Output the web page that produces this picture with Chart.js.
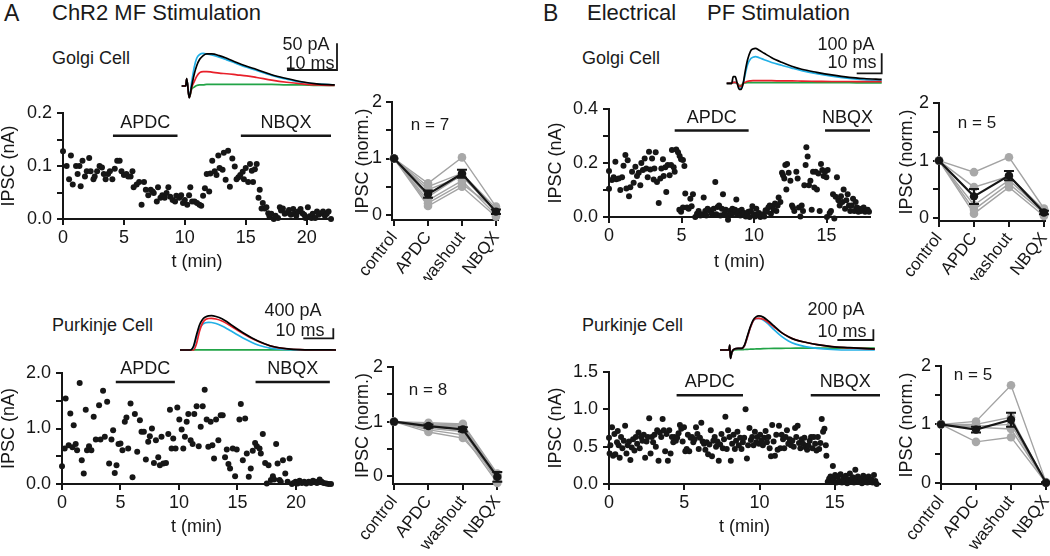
<!DOCTYPE html>
<html>
<head>
<meta charset="utf-8">
<script src="https://cdn.jsdelivr.net/npm/chart.js@4.4.1/dist/chart.umd.min.js"></script>
<style>
    body { margin: 0; width: 1050px; height: 556px; overflow: hidden; position: relative; background: #fff;
           font-family: "Liberation Sans", Arial, Helvetica, sans-serif; color: #1a1a1a; }
    canvas { position: absolute; }
    .lbl { position: absolute; line-height: 1; white-space: pre; }
</style>
</head>
<body>
<script>
// ---- values ----
var conditions = ['control', 'APDC', 'washout', 'NBQX'];

// time courses, [t (min), IPSC (nA)]
var golgiMf = [[0,0.128],[0.3,0.10],[0.5,0.075],[0.65,0.12],[0.8,0.065],[1.07,0.10],[1.2,0.085],[1.35,0.10],[1.45,0.062],[1.6,0.11],[1.8,0.08],[1.95,0.09],[2.15,0.115],[2.27,0.09],[2.5,0.075],[2.6,0.08],[2.8,0.09],[3.0,0.10],[3.2,0.097],[3.35,0.085],[3.5,0.075],[3.7,0.085],[3.85,0.09],[4.05,0.075],[4.25,0.095],[4.45,0.11],[4.65,0.11],[4.8,0.09],[5.0,0.083],[5.2,0.085],[5.35,0.08],[5.55,0.08],[5.7,0.09],[5.8,0.06],[6.05,0.065],[6.25,0.07],[6.45,0.027],[6.65,0.07],[6.8,0.055],[7.0,0.045],[7.2,0.055],[7.35,0.052],[7.45,0.049],[7.7,0.033],[7.8,0.06],[8.0,0.04],[8.15,0.045],[8.35,0.04],[8.5,0.049],[8.65,0.06],[8.8,0.042],[9.0,0.036],[9.2,0.033],[9.3,0.044],[9.55,0.04],[9.7,0.045],[9.85,0.03],[10.0,0.036],[10.2,0.027],[10.35,0.045],[10.45,0.06],[10.6,0.033],[10.8,0.033],[11.0,0.03],[11.2,0.027],[11.35,0.025],[11.5,0.044],[11.65,0.058],[11.8,0.085],[12.0,0.052],[12.1,0.086],[12.25,0.11],[12.45,0.09],[12.6,0.083],[12.75,0.12],[12.85,0.096],[13.1,0.093],[13.2,0.125],[13.35,0.074],[13.55,0.129],[13.7,0.061],[13.9,0.114],[14.1,0.099],[14.25,0.075],[14.4,0.079],[14.55,0.083],[14.75,0.089],[14.85,0.075],[15.0,0.096],[15.2,0.07],[15.35,0.104],[15.5,0.091],[15.6,0.07],[15.75,0.094],[15.9,0.104],[16.05,0.04],[16.15,0.055],[16.3,0.02],[16.4,0.03],[16.55,0.02],[16.7,0.022],[16.85,0.011],[16.95,0.005],[17.1,0.01],[17.3,0.0],[17.45,0.006],[17.65,0.002],[17.8,0.022],[17.9,0.016],[18.05,0.02],[18.2,0.01],[18.4,0.012],[18.55,0.017],[18.7,0.008],[18.9,0.019],[19.0,0.01],[19.15,0.006],[19.3,0.014],[19.5,0.019],[19.65,0.011],[19.8,0.008],[19.9,0.002],[20.1,0.022],[20.25,0.005],[20.4,0.002],[20.5,0.01],[20.7,0.002],[20.85,0.014],[21.0,0.008],[21.2,0.011],[21.35,0.014],[21.5,0.006],[21.65,0.01],[21.8,0.014],[22.0,0.0]];
var purkinjeMf = [[0,0.32],[0.23,0.64],[0.31,1.54],[0.57,0.70],[0.71,1.27],[0.89,0.66],[1.0,1.06],[1.17,0.72],[1.29,0.61],[1.51,1.82],[1.69,0.43],[1.86,0.19],[2.03,1.34],[2.14,0.61],[2.31,0.68],[2.51,0.61],[2.71,1.21],[2.89,0.80],[3.17,1.42],[3.29,0.80],[3.51,1.68],[3.66,0.85],[3.86,1.48],[4.03,0.37],[4.23,0.80],[4.37,0.97],[4.51,0.20],[4.66,0.34],[4.83,0.72],[5.0,0.73],[5.17,0.61],[5.37,1.12],[5.51,1.20],[5.66,0.64],[5.86,1.45],[6.03,0.12],[6.23,1.26],[6.43,0.58],[6.66,1.15],[6.8,0.94],[7.0,0.94],[7.17,0.44],[7.37,0.76],[7.51,0.86],[7.69,1.0],[7.86,0.38],[8.03,0.79],[8.23,0.48],[8.37,0.34],[8.51,0.85],[8.66,0.37],[8.89,0.38],[9.09,0.90],[9.23,1.34],[9.37,0.64],[9.51,0.82],[9.71,0.64],[9.86,1.38],[10.03,1.16],[10.23,0.98],[10.37,0.64],[10.51,0.85],[10.66,1.12],[10.8,1.26],[11.0,0.79],[11.17,0.72],[11.31,1.26],[11.51,1.40],[11.69,0.68],[11.86,1.03],[12.03,1.40],[12.2,1.70],[12.37,1.16],[12.51,0.67],[12.71,1.12],[12.86,0.70],[13.0,0.46],[13.17,1.16],[13.37,0.79],[13.57,1.24],[13.74,1.24],[13.94,0.48],[14.09,0.62],[14.23,0.36],[14.37,0.28],[14.6,0.64],[14.8,0.14],[14.94,0.62],[15.17,1.16],[15.29,1.44],[15.46,0.43],[15.66,1.18],[15.8,0.55],[15.97,0.13],[16.14,0.28],[16.31,0.60],[16.51,0.74],[16.66,0.68],[16.89,0.64],[17.0,0.55],[17.17,0.90],[17.37,0.38],[17.51,0.01],[17.66,0.34],[17.86,0.07],[18.03,0.14],[18.14,0.08],[18.31,0.72],[18.43,0.37],[18.6,0.07],[18.71,0.04],[18.89,0.43],[19.09,0.19],[19.29,0.04],[19.46,0.46],[19.66,0.0],[19.8,0.02],[19.97,0.04],[20.14,0.01],[20.31,0.06],[20.51,0.02],[20.71,0.04],[20.89,0.01],[21.09,0.04],[21.29,0.02],[21.46,0.06],[21.66,0.04],[21.8,0.02],[22.03,0.08],[22.2,0.04],[22.37,0.02],[22.6,0.01],[22.8,0.0],[23.0,0.0]];
var golgiPf = [[0,0.105],[0,0.17],[0.2,0.137],[0.32,0.147],[0.44,0.205],[0.5,0.14],[0.67,0.143],[0.78,0.1],[0.9,0.147],[1.0,0.19],[1.13,0.23],[1.2,0.106],[1.29,0.21],[1.38,0.077],[1.47,0.11],[1.59,0.168],[1.7,0.127],[1.82,0.186],[1.93,0.152],[2.05,0.164],[2.16,0.118],[2.23,0.2],[2.34,0.174],[2.46,0.217],[2.57,0.18],[2.67,0.147],[2.76,0.242],[2.85,0.176],[2.97,0.217],[3.08,0.139],[3.13,0.18],[3.22,0.24],[3.31,0.13],[3.43,0.052],[3.54,0.143],[3.61,0.18],[3.72,0.214],[3.77,0.152],[3.89,0.184],[3.95,0.093],[4.05,0.193],[4.18,0.155],[4.28,0.193],[4.34,0.248],[4.46,0.184],[4.53,0.168],[4.64,0.25],[4.76,0.24],[4.87,0.226],[4.97,0.214],[5.1,0.211],[5.2,0.189],[4.85,0.027],[4.97,0.019],[5.1,0.035],[5.26,0.087],[5.38,0.035],[5.49,0.031],[5.61,0.068],[5.7,0.04],[5.79,0.084],[5.95,0.0],[6.07,0.012],[6.18,0.022],[6.3,0.006],[6.41,0.01],[6.53,0.072],[6.64,0.022],[6.71,0.006],[6.8,0.031],[6.94,0.025],[7.03,0.019],[7.1,0.01],[7.22,0.031],[7.33,0.13],[7.4,0.01],[7.49,0.037],[7.59,0.043],[7.68,0.006],[7.79,0.031],[7.86,0.084],[7.95,0.012],[8.05,0.027],[8.14,0.006],[8.21,-0.01],[8.32,0.022],[8.41,0.01],[8.51,0.031],[8.6,0.015],[8.69,0.027],[8.78,0.065],[8.87,0.01],[8.97,0.022],[9.06,0.006],[9.15,0.027],[9.24,0.012],[9.33,0.015],[9.43,0.002],[9.52,0.01],[9.61,0.019],[9.7,0.0],[9.79,0.022],[9.89,0.04],[9.98,0.01],[10.07,0.002],[10.16,0.031],[10.25,0.01],[10.34,0.015],[10.44,0.0],[10.53,0.006],[10.62,0.01],[10.71,0.002],[10.8,0.025],[10.9,0.019],[10.99,0.035],[11.08,0.043],[11.17,0.012],[11.26,0.04],[11.36,0.027],[11.45,0.05],[11.54,0.022],[11.63,0.043],[11.7,0.072],[11.82,0.056],[11.93,0.164],[12.0,0.155],[12.09,0.143],[12.16,0.193],[12.23,0.102],[12.28,0.196],[12.39,0.164],[12.51,0.134],[12.62,0.043],[12.69,0.035],[12.78,0.022],[12.92,0.168],[13.01,0.143],[13.1,0.035],[13.2,0.002],[13.29,0.043],[13.38,0.022],[13.47,0.118],[13.56,0.193],[13.61,0.258],[13.7,0.224],[13.79,0.118],[13.89,0.134],[13.98,0.027],[14.07,0.168],[14.16,0.109],[14.25,0.168],[14.34,0.102],[14.44,0.161],[14.53,0.022],[14.62,0.196],[14.71,0.174],[14.8,0.152],[14.9,0.168],[14.99,0.147],[15.03,0.0],[15.08,0.174],[15.22,0.015],[15.31,0.022],[15.45,0.084],[15.54,-0.006],[15.63,0.075],[15.72,0.147],[15.82,0.062],[15.91,0.043],[16.0,0.077],[16.09,0.056],[16.18,0.102],[16.28,0.031],[16.37,0.062],[16.46,0.084],[16.55,0.043],[16.64,0.022],[16.74,0.043],[16.83,0.068],[16.92,0.022],[17.01,0.056],[17.1,0.035],[17.2,0.019],[17.29,0.031],[17.38,0.022],[17.47,0.027],[17.56,0.035],[17.66,0.019],[17.75,0.022],[17.84,0.027],[17.93,0.019]];
var purkinjePf = [[0,0.62],[0.04,0.41],[0.09,0.52],[0.2,0.76],[0.27,0.38],[0.36,0.67],[0.42,0.4],[0.53,0.56],[0.58,0.71],[0.64,0.52],[0.71,0.35],[0.8,0.63],[0.89,0.48],[0.98,0.58],[1.07,0.78],[1.16,0.41],[1.24,0.52],[1.33,0.57],[1.42,0.32],[1.51,0.49],[1.6,0.6],[1.69,0.45],[1.78,0.63],[1.87,0.54],[1.96,0.69],[2.04,0.48],[2.13,0.63],[2.22,0.58],[2.31,0.66],[2.4,0.35],[2.49,0.57],[2.58,0.63],[2.67,0.88],[2.76,0.41],[2.84,0.63],[2.93,0.56],[3.02,0.66],[3.11,0.5],[3.2,0.72],[3.29,0.31],[3.38,0.69],[3.47,0.63],[3.56,0.87],[3.64,0.72],[3.73,0.44],[3.82,0.67],[3.91,0.31],[4.0,0.72],[4.09,0.41],[4.18,0.63],[4.27,0.56],[4.36,0.63],[4.44,0.58],[4.53,0.62],[4.62,0.68],[4.71,0.79],[4.8,0.74],[4.89,0.57],[4.98,0.76],[5.07,0.44],[5.16,0.47],[5.24,0.66],[5.33,0.44],[5.42,0.62],[5.51,0.63],[5.6,0.56],[5.69,0.6],[5.78,0.76],[5.87,0.67],[5.96,0.47],[6.04,0.62],[6.13,0.82],[6.22,0.57],[6.31,0.54],[6.4,0.46],[6.49,0.56],[6.58,0.4],[6.67,0.53],[6.76,0.72],[6.84,0.37],[6.93,0.58],[7.02,0.63],[7.11,0.5],[7.2,0.57],[7.29,0.31],[7.38,0.53],[7.47,0.67],[7.56,0.48],[7.64,0.6],[7.73,0.9],[7.82,0.47],[7.91,0.72],[8.0,0.63],[8.09,0.31],[8.18,0.54],[8.27,0.66],[8.36,0.47],[8.44,0.58],[8.53,0.7],[8.62,0.52],[8.71,0.62],[8.8,0.47],[8.89,0.56],[8.98,0.62],[9.07,1.0],[9.16,0.34],[9.24,0.52],[9.33,0.75],[9.42,0.59],[9.51,0.63],[9.6,0.52],[9.69,0.7],[9.78,0.56],[9.87,0.63],[9.96,0.54],[10.04,0.66],[10.13,0.58],[10.22,0.52],[10.31,0.62],[10.4,0.71],[10.49,0.56],[10.58,0.63],[10.67,0.48],[10.76,0.37],[10.84,0.79],[10.93,0.57],[11.02,0.38],[11.11,0.66],[11.2,0.46],[11.29,0.78],[11.38,0.48],[11.47,0.66],[11.56,0.6],[11.64,0.48],[11.73,0.63],[11.82,0.72],[11.91,0.54],[12.0,0.6],[12.09,0.52],[12.18,0.58],[12.27,0.5],[12.36,0.75],[12.44,0.63],[12.53,0.78],[12.62,0.55],[12.71,0.48],[12.8,0.6],[12.89,0.54],[12.98,0.62],[13.07,0.49],[13.16,0.46],[13.24,0.52],[13.33,0.58],[13.42,0.63],[13.51,0.48],[13.6,0.63],[13.69,0.54],[13.78,0.45],[13.87,0.63],[13.96,0.47],[14.04,0.55],[14.13,0.87],[14.22,0.7],[14.31,0.74],[14.4,0.52],[14.44,0.38],[14.53,0.03],[14.62,0.07],[14.71,0.1],[14.8,0.03],[14.87,0.24],[14.93,0.06],[15.02,0.12],[15.11,0.02],[15.2,0.1],[15.29,0.04],[15.38,0.13],[15.47,0.02],[15.56,0.07],[15.64,0.03],[15.73,0.11],[15.82,0.01],[15.91,0.06],[16.0,0.14],[16.09,0.04],[16.18,0.09],[16.27,0.02],[16.36,0.19],[16.44,0.05],[16.53,0.1],[16.62,0.03],[16.71,0.07],[16.8,0.01],[16.89,0.11],[16.98,0.04],[17.07,0.07],[17.16,0.02],[17.24,0.1],[17.33,0.03],[17.42,0.06],[17.51,0.02],[17.6,0.12],[17.69,0.04],[17.78,0.0]];

// drug application periods (min) and the IPSC level the bar sits at (nA)
var apdcGolgiMf = [4.1, 9.4], nbqxGolgiMf = [14.6, 22], barGolgiMf = 0.157;
var apdcPurkMf = [4.6, 9.65], nbqxPurkMf = [16.55, 22.9], barPurkMf = 1.84;
var apdcGolgiPf = [4.53, 9.63], nbqxGolgiPf = [14.9, 18], barGolgiPf = 0.32;
var apdcPurkPf = [4.49, 8.9], nbqxPurkPf = [13.4, 18], barPurkPf = 1.19;

// normalised IPSC per cell (control = 1), mean and SEM over cells
var golgiMfApdc = [0.56, 0.50, 0.45, 0.32, 0.26, 0.21, 0.16];
var golgiMfWash = [1.02, 0.74, 0.68, 0.71, 0.61, 0.55, 0.50];
var golgiMfNbqx = [0.15, 0.12, 0.08, 0.04, 0.00, 0.10, -0.03];
var golgiMfMean = [1, 0.37, 0.73, 0.06], golgiMfSem = [0, 0.065, 0.07, 0.04];

var purkMfApdc = [0.98, 0.96, 0.94, 0.92, 0.90, 0.88, 0.85, 0.81];
var purkMfWash = [0.96, 0.94, 0.92, 0.90, 0.86, 0.82, 0.76, 0.70];
var purkMfNbqx = [0.05, 0.03, 0.00, -0.02, -0.05, -0.08, -0.12, 0.02];
var purkMfMean = [1, 0.92, 0.86, -0.01], purkMfSem = [0, 0.03, 0.04, 0.09];

var golgiPfApdc = [0.80, 0.54, 0.23, 0.15, 0.08];
var golgiPfWash = [1.06, 0.73, 0.66, 0.60, 0.54];
var golgiPfNbqx = [0.17, 0.15, 0.12, 0.09, 0.04];
var golgiPfMean = [1, 0.38, 0.74, 0.10], golgiPfSem = [0, 0.13, 0.08, 0.03];

var purkPfApdc = [1.05, 1.00, 0.97, 0.95, 0.70];
var purkPfWash = [1.67, 1.12, 1.00, 0.92, 0.78];
var purkPfNbqx = [0.01, 0.00, 0.00, 0.00, 0.00];
var purkPfMean = [1, 0.91, 1.08, 0.00], purkPfSem = [0, 0.05, 0.12, 0.01];

// example traces: t (ms) and IPSC (pA) in control, APDC, washout, NBQX
var trGolgiMfT = [0, 0.8, 1.0, 1.5, 2.0, 2.5, 3.0, 3.6, 4.3, 5.0, 6.0, 7.5, 9, 11, 13, 15, 18, 21, 24, 27, 30.6];
var trGolgiMfCtrl = [0, 0, 14, -22, 0, 22, 38, 50, 57, 60, 60, 57, 52, 44, 37, 31, 21, 14, 8, 4, 2];
var trGolgiMfApdc = [0, 0, 14, -22, -3, 8, 18, 25, 27, 27, 26, 24, 23, 21, 19, 16, 11, 7, 4, 2, 1];
var trGolgiMfWash = [0, 0, 14, -22, 8, 35, 52, 59, 61, 60, 58, 54, 49, 42, 35, 29, 20, 13, 7, 4, 2];
var trGolgiMfNbqx = [0, 0, 14, -22, -6, -2, 1, 2, 2, 3, 3, 3, 3, 3, 3, 3, 3, 2, 2, 1, 1];

var trPurkMfT = [0, 3.5, 4.5, 5.5, 6.5, 7.5, 8.5, 9.5, 10.5, 12, 14, 16, 18, 20, 22, 24, 26, 28, 30, 33, 36, 40, 45, 52];
var trPurkMfCtrl = [0, 0, 150, 600, 1000, 1220, 1320, 1365, 1373, 1340, 1250, 1100, 930, 770, 620, 480, 360, 260, 170, 90, 45, 15, 5, 0];
var trPurkMfApdc = [0, 0, 0, 250, 750, 1080, 1220, 1260, 1267, 1240, 1160, 1030, 880, 730, 590, 460, 350, 250, 165, 85, 40, 15, 5, 0];
var trPurkMfWash = [0, 0, 100, 500, 850, 1020, 1090, 1107, 1100, 1060, 960, 830, 690, 550, 420, 300, 200, 130, 75, 30, 10, 3, 0, 0];
var trPurkMfNbqx = [0, 0, 0, 5, 5, 5, 5, 5, 5, 5, 5, 5, 5, 5, 5, 5, 5, 5, 5, 5, 5, 5, 5, 5];

var trGolgiPfT = [0, 2, 2.6, 3.4, 4.2, 5, 5.8, 6.6, 7.4, 8.4, 9.5, 10.5, 11.5, 13, 15, 18, 22, 26, 30, 36, 42, 49, 55, 62];
var trGolgiPfCtrl = [0, 0, 33, 33, 0, -30, -30, 0, 60, 120, 160, 172, 175, 165, 150, 128, 105, 85, 70, 55, 42, 30, 24, 20];
var trGolgiPfApdc = [0, 0, 5, 5, 0, -15, -15, 0, 5, 10, 12, 13, 13, 13, 13, 13, 12, 12, 11, 10, 9, 9, 8, 8];
var trGolgiPfWash = [0, 0, 5, 5, 0, -20, -25, 0, 45, 95, 122, 130, 133, 128, 118, 104, 90, 76, 63, 48, 36, 25, 18, 13];
var trGolgiPfNbqx = [0, 0, 3, 3, 0, -10, -10, 0, 2, 3, 3, 3, 3, 3, 3, 3, 3, 3, 3, 3, 3, 3, 2, 2];

var trPurkPfT = [0, 2.5, 2.7, 2.9, 3.3, 4, 5, 6, 6.8, 7.6, 8.4, 9.2, 10, 10.8, 12, 13.5, 15, 17, 19, 21, 24, 27, 31, 36, 43];
var trPurkPfCtrl = [0, 0, 93, -155, -40, 20, 30, 30, 90, 260, 430, 560, 620, 637, 615, 540, 450, 330, 250, 190, 140, 100, 65, 45, 19];
var trPurkPfApdc = [0, 0, 93, -155, -40, 20, 30, 30, 80, 240, 410, 540, 590, 592, 575, 510, 430, 330, 250, 190, 140, 100, 65, 40, 18];
var trPurkPfWash = [0, 0, 93, -155, -40, 20, 30, 30, 80, 240, 410, 540, 585, 590, 560, 480, 380, 260, 170, 110, 60, 30, 10, 0, 0];
var trPurkPfNbqx = [0, 0, 93, -155, -40, 0, 5, 5, 10, 12, 15, 18, 20, 22, 25, 28, 30, 32, 33, 34, 35, 35, 35, 35, 35];

// scale bars: [ms, pA]
var sbGolgiMf = [10, 50], sbPurkMf = [10, 400], sbGolgiPf = [10, 100], sbPurkPf = [10, 200];

// ---- drawing ----
var ink = '#161616';
var traceColors = { ctrl: '#000000', apdc: '#e8202a', wash: '#22b0e6', nbqx: '#22a447' };
Chart.defaults.font.family = '"Liberation Sans", Arial, Helvetica, sans-serif';
Chart.defaults.font.size = 18;
Chart.defaults.color = ink;

function label(text, x, y, size, center) {
    var d = document.createElement('div');
    d.className = 'lbl';
    d.textContent = text;
    d.style.fontSize = size + 'px';
    d.style.left = x + 'px';
    d.style.top = (y - size * 0.49) + 'px';
    if (center) d.style.transform = 'translateX(-50%)';
    document.body.appendChild(d);
}

function canvasAt(left, top, width, height) {
    var c = document.createElement('canvas');
    c.width = width;
    c.height = height;
    c.style.left = left + 'px';
    c.style.top = top + 'px';
    document.body.appendChild(c);
    return c;
}

// box = plot area in page pixels, pad = room around it for axes
function place(box, pad) {
    return canvasAt(box.l - pad.l, box.t - pad.t, box.r - box.l + pad.l + pad.r, box.b - box.t + pad.t + pad.b);
}

function fixedSize(size) {
    return function (s) {
        if (s.isHorizontal()) s.height = size; else s.width = size;
        s.paddingLeft = s.paddingRight = s.paddingTop = s.paddingBottom = 0;
    };
}

function axis(o) {
    return {
        type: 'linear', position: o.pos, min: o.min, max: o.max,
        border: { display: true, color: ink, width: 2 },
        grid: { drawOnChartArea: false, color: ink, lineWidth: 2, tickLength: 6 },
        ticks: {
            stepSize: o.step, includeBounds: false, autoSkip: false, color: ink,
            padding: o.tickPad, font: { size: o.fontSize || 18 },
            minRotation: o.rot || 0, maxRotation: o.rot || 0, callback: o.fmt
        },
        title: { display: true, text: o.title, color: ink, padding: 0, font: { size: 18, lineHeight: 1 } },
        afterFit: fixedSize(o.size)
    };
}

var drugPlugin = {
    id: 'drugs',
    afterDatasetsDraw: function (chart, args, opts) {
        var ctx = chart.ctx, xs = chart.scales.x, ys = chart.scales.y;
        var y = ys.getPixelForValue(opts.level);
        ctx.save();
        ctx.strokeStyle = ink;
        ctx.fillStyle = ink;
        ctx.lineWidth = 2.5;
        ctx.font = '18px "Liberation Sans", Arial, sans-serif';
        ctx.textAlign = 'center';
        ctx.textBaseline = 'middle';
        opts.bars.forEach(function (b) {
            var x0 = xs.getPixelForValue(b.span[0]), x1 = xs.getPixelForValue(b.span[1]);
            ctx.beginPath();
            ctx.moveTo(x0, y);
            ctx.lineTo(x1, y);
            ctx.stroke();
            ctx.fillText(b.name, (x0 + x1) / 2, y - 13);
        });
        ctx.restore();
    }
};

var errPlugin = {
    id: 'errbars',
    afterDatasetsDraw: function (chart, args, opts) {
        var ctx = chart.ctx, xs = chart.scales.x, ys = chart.scales.y;
        ctx.save();
        ctx.strokeStyle = ink;
        ctx.lineWidth = 2;
        opts.mean.forEach(function (m, i) {
            if (!opts.sem[i]) return;
            var x = xs.getPixelForValue(i);
            var y0 = ys.getPixelForValue(m - opts.sem[i]), y1 = ys.getPixelForValue(m + opts.sem[i]);
            ctx.beginPath();
            ctx.moveTo(x, y0); ctx.lineTo(x, y1);
            ctx.moveTo(x - 5, y0); ctx.lineTo(x + 5, y0);
            ctx.moveTo(x - 5, y1); ctx.lineTo(x + 5, y1);
            ctx.stroke();
        });
        ctx.restore();
    }
};

function timeCourse(points, box, pad, xMax, yMax, yStep, yFmt, drugs, level) {
    new Chart(place(box, pad), {
        type: 'scatter',
        data: {
            datasets: [{
                data: points.map(function (p) { return { x: p[0], y: p[1] }; }),
                pointRadius: 3, backgroundColor: ink, borderWidth: 0, clip: false
            }]
        },
        options: {
            responsive: false, animation: false,
            layout: { padding: { top: pad.t, right: pad.r, left: 0, bottom: 0 } },
            scales: {
                x: axis({ pos: 'bottom', min: 0, max: xMax, step: 5, size: pad.b, tickPad: 2, title: 't (min)',
                          fmt: function (v) { return String(v); } }),
                y: axis({ pos: 'left', min: 0, max: yMax, step: yStep, size: pad.l, tickPad: 5, title: 'IPSC (nA)', fmt: yFmt })
            },
            plugins: { legend: { display: false }, tooltip: { enabled: false }, drugs: { bars: drugs, level: level } }
        },
        plugins: [drugPlugin]
    });
}

function normPlot(apdc, wash, nbqx, mean, sem, box, pad, xMin, xMax, yMin) {
    var sets = [{
        data: mean.map(function (v, i) { return { x: i, y: v }; }),
        borderColor: ink, backgroundColor: ink, borderWidth: 2.2, pointRadius: 4.2, pointBorderWidth: 0, clip: false
    }];
    apdc.forEach(function (a, i) {
        sets.push({
            data: [{ x: 0, y: 1 }, { x: 1, y: a }, { x: 2, y: wash[i] }, { x: 3, y: nbqx[i] }],
            borderColor: '#a3a3a3', backgroundColor: '#a8a8a8', borderWidth: 1.4, pointRadius: 4.3, pointBorderWidth: 0, clip: false
        });
    });
    new Chart(place(box, pad), {
        type: 'line',
        data: { datasets: sets },
        options: {
            responsive: false, animation: false,
            layout: { padding: { top: pad.t, right: pad.r, left: 0, bottom: 0 } },
            scales: {
                x: axis({ pos: 'bottom', min: xMin, max: xMax, step: 1, size: pad.b, tickPad: 2, rot: 52, fontSize: 17, title: '',
                          fmt: function (v) { return conditions[v] || ''; } }),
                y: axis({ pos: 'left', min: yMin, max: 2, step: 0.5, size: pad.l, tickPad: 4, title: 'IPSC (norm.)',
                          fmt: function (v) { return Number.isInteger(v) ? String(v) : ''; } })
            },
            plugins: { legend: { display: false }, tooltip: { enabled: false }, errbars: { mean: mean, sem: sem } }
        },
        plugins: [errPlugin]
    });
}

// cv = canvas [left, top, width, height], xr/yr = ms and pA at its edges,
// bar = corner of the scale bar [ms, pA]
function trace(cv, xr, yr, t, ctrl, apdc, wash, nbqx, sb, bar) {
    function line(v, color) {
        return {
            data: t.map(function (x, i) { return { x: x, y: v[i] }; }),
            borderColor: color, borderWidth: 1.7, pointRadius: 0, cubicInterpolationMode: 'monotone', clip: false
        };
    }
    var sets = [line(ctrl, traceColors.ctrl), line(apdc, traceColors.apdc), line(wash, traceColors.wash), line(nbqx, traceColors.nbqx)];
    sets.push({
        data: [{ x: bar[0] - sb[0], y: bar[1] }, { x: bar[0], y: bar[1] }, { x: bar[0], y: bar[1] + sb[1] }],
        borderColor: ink, borderWidth: 1.8, pointRadius: 0, tension: 0, clip: false
    });
    new Chart(canvasAt(cv[0], cv[1], cv[2], cv[3]), {
        type: 'line',
        data: { datasets: sets },
        options: {
            responsive: false, animation: false,
            layout: { padding: 0 },
            scales: {
                x: { type: 'linear', display: false, min: xr[0], max: xr[1] },
                y: { type: 'linear', display: false, min: yr[0], max: yr[1] }
            },
            plugins: { legend: { display: false }, tooltip: { enabled: false } }
        }
    });
}

// ---- panel A: ChR2 MF stimulation ----
label('A', 4, 13, 23, false);
label('ChR2 MF Stimulation', 52, 13, 22, false);
label('Golgi Cell', 52, 58, 18, false);
label('Purkinje Cell', 52, 325, 18, false);

trace([180, 38, 160, 62], [-0.34, 31.66], [-26.2, 89.9], trGolgiMfT,
      trGolgiMfCtrl, trGolgiMfApdc, trGolgiMfWash, trGolgiMfNbqx, sbGolgiMf, [31.06, 30]);
label('50 pA', 306, 44, 18, true);
label('10 ms', 310, 63, 18, true);

trace([176, 300, 164, 56], [-1.33, 53.33], [-240, 2000], trPurkMfT,
      trPurkMfCtrl, trPurkMfApdc, trPurkMfWash, trPurkMfNbqx, sbPurkMf, [51.1, 467]);
label('400 pA', 293, 310, 18, true);
label('10 ms', 300, 330, 18, true);

timeCourse(golgiMf, { l: 63, t: 113, r: 331, b: 219 }, { l: 63, t: 20, r: 12, b: 52 }, 22, 0.2, 0.05,
    function (v) { return Math.round(v * 100) % 10 === 0 ? v.toFixed(1) : ''; },
    [{ name: 'APDC', span: apdcGolgiMf }, { name: 'NBQX', span: nbqxGolgiMf }], barGolgiMf);
timeCourse(purkinjeMf, { l: 62, t: 373, r: 331, b: 484 }, { l: 62, t: 20, r: 12, b: 52 }, 23, 2, 0.5,
    function (v) { return Number.isInteger(v) ? v.toFixed(1) : ''; },
    [{ name: 'APDC', span: apdcPurkMf }, { name: 'NBQX', span: nbqxPurkMf }], barPurkMf);

normPlot(golgiMfApdc, golgiMfWash, golgiMfNbqx, golgiMfMean, golgiMfSem,
    { l: 392, t: 102, r: 498, b: 220 }, { l: 38, t: 20, r: 8, b: 60 }, -0.06, 3.06, -0.088);
label('n = 7', 430, 124, 17, true);
normPlot(purkMfApdc, purkMfWash, purkMfNbqx, purkMfMean, purkMfSem,
    { l: 393, t: 367, r: 499, b: 484 }, { l: 39, t: 20, r: 8, b: 72 }, -0.03, 3.05, -0.14);
label('n = 8', 428, 389, 17, true);

// ---- panel B: electrical PF stimulation ----
label('B', 543, 13, 23, false);
label('Electrical', 587, 13, 22, false);
label('PF Stimulation', 707, 13, 22, false);
label('Golgi Cell', 582, 58, 18, false);
label('Purkinje Cell', 582, 325, 18, false);

trace([722, 38, 166, 58], [-1.88, 64.52], [-63.5, 226.5], trGolgiPfT,
      trGolgiPfCtrl, trGolgiPfApdc, trGolgiPfWash, trGolgiPfNbqx, sbGolgiPf, [62, 50]);
label('100 pA', 846, 44, 18, true);
label('10 ms', 852, 62, 18, true);

trace([715, 300, 165, 62], [-1.39, 44.44], [-224, 935], trPurkPfT,
      trPurkPfCtrl, trPurkPfApdc, trPurkPfWash, trPurkPfNbqx, sbPurkPf, [42.6, 187]);
label('200 pA', 836, 309, 18, true);
label('10 ms', 842, 331, 18, true);

timeCourse(golgiPf, { l: 609, t: 109, r: 870, b: 217 }, { l: 62, t: 20, r: 12, b: 54 }, 18, 0.4, 0.1,
    function (v) { return Math.round(v * 10) % 2 === 0 ? v.toFixed(1) : ''; },
    [{ name: 'APDC', span: apdcGolgiPf }, { name: 'NBQX', span: nbqxGolgiPf }], barGolgiPf);
timeCourse(purkinjePf, { l: 609, t: 372, r: 880, b: 484 }, { l: 62, t: 20, r: 10, b: 52 }, 18, 1.5, 0.5,
    function (v) { return v.toFixed(1); },
    [{ name: 'APDC', span: apdcPurkPf }, { name: 'NBQX', span: nbqxPurkPf }], barPurkPf);

normPlot(golgiPfApdc, golgiPfWash, golgiPfNbqx, golgiPfMean, golgiPfSem,
    { l: 939, t: 103, r: 1045, b: 221 }, { l: 41, t: 20, r: 8, b: 59 }, 0, 3.03, -0.047);
label('n = 5', 977, 122, 17, true);
normPlot(purkPfApdc, purkPfWash, purkPfNbqx, purkPfMean, purkPfSem,
    { l: 941, t: 366, r: 1046, b: 484 }, { l: 43, t: 20, r: 8, b: 72 }, 0, 3.0, -0.022);
label('n = 5', 973, 374, 17, true);
</script>
</body>
</html>
